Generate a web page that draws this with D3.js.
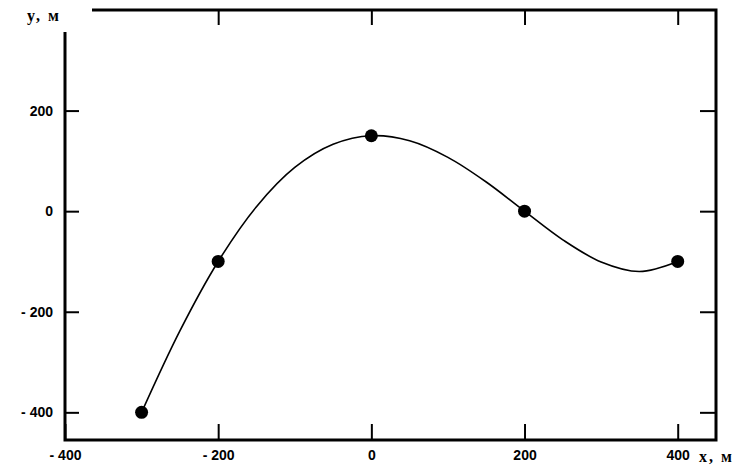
<!DOCTYPE html>
<html lang="ru">
<head>
<meta charset="utf-8">
<script src="https://cdn.jsdelivr.net/npm/d3@7/dist/d3.min.js"></script>
<style>
  body { margin: 0; background: #fff; }
  .tick text { font-family: "Liberation Sans", Arial, sans-serif; font-weight: bold; font-size: 14px; fill: #000; }
  .tick line { stroke: #000; stroke-width: 2; }
  .lbl { font-family: "Liberation Serif", serif; font-weight: bold; font-size: 16px; letter-spacing: 2px; }
</style>
</head>
<body>
<script>
  var w = 750, h = 471;

  // marked points
  var xs = [-300, -200, 0, 200, 400];
  var ys = [-400, -100, 150, 0, -100];

  // smooth curve, every 50 m
  var curveX = [-300, -250, -200, -150, -100, -50, 0, 50, 100, 150, 200, 250, 300, 350, 400];
  var curveY = [-400, -238, -100, 9, 87, 133, 150, 140, 107, 58, 0, -57, -101, -120, -100];

  var xTicks = [-400, -200, 0, 200, 400];
  var yTicks = [-400, -200, 0, 200];

  var svg = d3.select("body").append("svg")
      .attr("width", w)
      .attr("height", h);

  var x = d3.scaleLinear().domain([-400, 450]).range([65, 716]);
  var y = d3.scaleLinear().domain([-455, 400]).range([440, 10]);

  var fmt = function(d) { return d < 0 ? "- " + Math.abs(d) : d; };

  // bottom axis, ticks pointing inward
  var gb = svg.append("g")
      .attr("transform", "translate(0," + y(-455) + ")")
      .call(d3.axisBottom(x).tickValues(xTicks).tickSize(-16).tickPadding(10).tickFormat(fmt));
  gb.select(".domain").remove();

  // left axis
  var gl = svg.append("g")
      .attr("transform", "translate(" + x(-400) + ",0)")
      .call(d3.axisLeft(y).tickValues(yTicks).tickSize(-14).tickPadding(12).tickFormat(fmt));
  gl.select(".domain").remove();

  // right axis, no labels
  var gr = svg.append("g")
      .attr("transform", "translate(" + x(450) + ",0)")
      .call(d3.axisRight(y).tickValues(yTicks).tickSize(-16).tickFormat(""));
  gr.select(".domain").remove();

  // top axis, no labels
  var gt = svg.append("g")
      .attr("transform", "translate(0," + y(400) + ")")
      .call(d3.axisTop(x).tickValues(xTicks.slice(1)).tickSize(-15).tickFormat(""));
  gt.select(".domain").remove();

  // frame (gap in the top-left corner for the y label)
  var frame = [[x(-400), y(400) + 22], [x(-400), y(-455)], [x(450), y(-455)], [x(450), y(400)], [x(-400) + 27, y(400)]];
  svg.append("path")
      .attr("d", d3.line()(frame))
      .attr("fill", "none")
      .attr("stroke", "#000")
      .attr("stroke-width", 3)
      .attr("stroke-linejoin", "miter");

  var cpts = curveX.map(function(d, i) { return [d, curveY[i]]; });
  var pts = xs.map(function(d, i) { return [d, ys[i]]; });

  var line = d3.line()
      .x(function(d) { return x(d[0]); })
      .y(function(d) { return y(d[1]); })
      .curve(d3.curveCatmullRom.alpha(0.5));

  svg.append("path")
      .datum(cpts)
      .attr("d", line)
      .attr("fill", "none")
      .attr("stroke", "#000")
      .attr("stroke-width", 1.6);

  svg.selectAll("circle.pt")
      .data(pts)
      .enter()
      .append("circle")
      .attr("class", "pt")
      .attr("cx", function(d) { return x(d[0]); })
      .attr("cy", function(d) { return y(d[1]); })
      .attr("r", 6.5)
      .attr("fill", "#000");

  svg.append("text")
      .attr("class", "lbl")
      .attr("x", 27)
      .attr("y", 21)
      .text("y, м");

  svg.append("text")
      .attr("class", "lbl")
      .attr("x", 699)
      .attr("y", 462)
      .text("x, м");
</script>
</body>
</html>
